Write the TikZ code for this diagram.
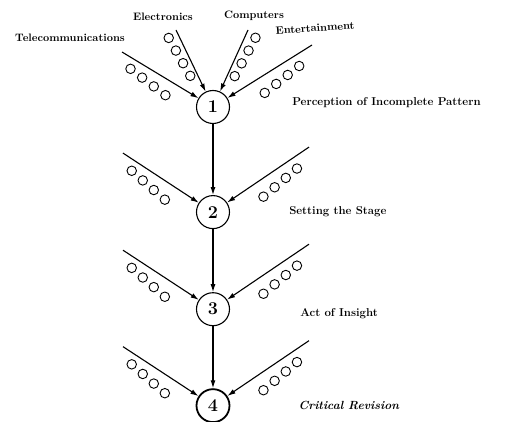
\documentclass[tikz,border=0pt]{standalone}
\usepackage{tikz}
\usetikzlibrary{shapes,arrows,arrows.meta,positioning,calc}

\begin{document}
\begin{tikzpicture}[x=1pt, y=1pt, node distance=60pt, auto, >=stealth]
        \tikzstyle{stage} = [circle, draw, line width=1.1pt, inner sep=0pt, minimum size=33pt, font=\fontsize{18}{18}\selectfont\bfseries]
        \tikzstyle{line} = [draw, -{Latex[length=8pt,width=5pt]}, line width=1.1pt]
        \tikzstyle{bead} = [circle, draw, line width=0.9pt, inner sep=0pt, minimum size=9.5pt]
        \tikzstyle{tag} = [font=\fontsize{10.8}{13}\selectfont\bfseries, inner sep=0pt]
        \tikzstyle{phase} = [font=\fontsize{11.4}{13}\selectfont\bfseries, inner sep=0pt]

        \useasboundingbox (0,0) rectangle (519,421);

        % Stages
        \node [stage] (s1) at (213,314) {1};
        \node [stage, below=71pt of s1] (s2) {2};
        \node [stage, below=63pt of s2] (s3) {3};
        \node [stage, below=62pt of s3, line width=1.8pt] (s4) {4};

        % Stage labels
        \node [phase, right=62pt of s1, yshift=4pt] (p1) {Perception of Incomplete Pattern};
        \node [phase, right=59pt of s2] (p2) {Setting the Stage};
        \node [phase, right=70pt of s3, yshift=-4pt] (p3) {Act of Insight};
        \node [phase, right=68pt of s4, font=\fontsize{11.8}{13}\selectfont\bfseries\itshape] (p4) {Critical Revision};

        % Sources feeding stage 1
        \coordinate (tele) at ($(s1)+(-91,55)$);
        \coordinate (elec) at ($(s1)+(-37,77)$);
        \coordinate (comp) at ($(s1)+(35,77)$);
        \coordinate (ent) at ($(s1)+(99,62)$);
        \node [tag] (teletxt) at ($(tele)+(-52,14)$) {Telecommunications};
        \node [tag] (electxt) at ($(elec)+(-13,13)$) {Electronics};
        \node [tag] (comptxt) at ($(comp)+(6,14)$) {Computers};
        \node [tag, rotate=4] (enttxt) at ($(ent)+(3,17)$) {Entertainment};

        % Sources feeding stages 2-4
        \foreach \s in {2,3,4} {
            \coordinate (l\s) at ($(s\s)+(-90,59)$);
            \coordinate (r\s) at ($(s\s)+(96,65)$);
        }

        % Paths
        \foreach \src/\dst in {tele/s1, elec/s1, comp/s1, ent/s1, l2/s2, r2/s2, l3/s3, r3/s3, l4/s4, r4/s4}
            \path [line] (\src) -- (\dst);
        \path [line] (s1) -- (s2);
        \path [line] (s2) -- (s3);
        \path [line] (s3) -- (s4);

        % Beads along each feed (drifting slightly away from the line)
        \foreach \src/\dst/\side/\start/\off/\drift in {tele/s1/-90/16/10/1.5, elec/s1/-90/4/10/-1, comp/s1/90/4/10/-1, ent/s1/90/22/11/1.5,
                l2/s2/-90/17/10/2, r2/s2/90/22/11/1.5, l3/s3/-90/17/10/2, r3/s3/90/22/11/1.5, l4/s4/-90/17/10/2, r4/s4/90/22/11/1.5}
            \foreach \k in {0,...,3} {
                \pgfmathsetmacro{\dd}{\start+14.5*\k}
                \pgfmathsetmacro{\oo}{\off+\drift*\k}
                \node [bead] at ($(\src)!\dd pt!(\dst)!\oo pt!\side:(\dst)$) {};
            }
    \end{tikzpicture}
\end{document}
